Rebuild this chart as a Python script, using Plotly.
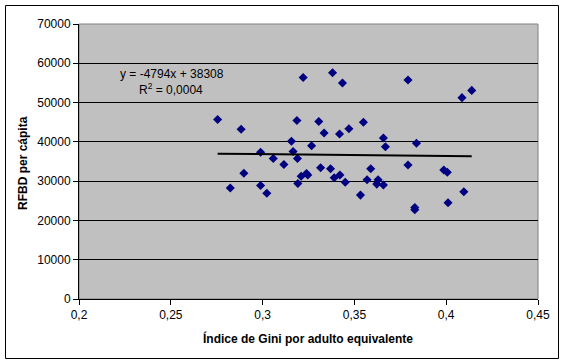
import plotly.graph_objects as go

gini = [0.2755, 0.2883, 0.2824, 0.2898, 0.2989, 0.2989, 0.3023, 0.3058, 0.3116, 0.3157,
        0.3166, 0.3190, 0.3187, 0.3192, 0.3210, 0.3221, 0.3239, 0.3246, 0.3267, 0.3306,
        0.3316, 0.3335, 0.3370, 0.3381, 0.3390, 0.3419, 0.3421, 0.3435, 0.3450, 0.3470,
        0.3533, 0.3549, 0.3569, 0.3589, 0.3622, 0.3629, 0.3658, 0.3658, 0.3669, 0.3792,
        0.3792, 0.3829, 0.3829, 0.3838, 0.3987, 0.4006, 0.4010, 0.4086, 0.4096, 0.4139]
rfbd = [45700, 43200, 28250, 32000, 37360, 28900, 26900, 35750, 34250, 40150,
        37550, 35750, 45450, 29400, 31250, 56400, 31950, 31550, 39000, 45200,
        33400, 42250, 33150, 57600, 30850, 42000, 31550, 55000, 29700, 43350,
        26450, 45000, 30350, 33150, 29250, 30350, 29000, 41000, 38750, 55750,
        34100, 23300, 22700, 39650, 32850, 32250, 24500, 51250, 27300, 53100]

trend_slope = -4794
trend_intercept = 38308
equation_text = "y = -4794x + 38308"
r2_text = "R<sup>2</sup> = 0,0004"

x_tickvals = [0.2, 0.25, 0.3, 0.35, 0.4, 0.45]
x_ticktext = ["0,2", "0,25", "0,3", "0,35", "0,4", "0,45"]
y_tickvals = [0, 10000, 20000, 30000, 40000, 50000, 60000, 70000]
y_ticktext = ["0", "10000", "20000", "30000", "40000", "50000", "60000", "70000"]

x_title = "Índice de Gini por adulto equivalente"
y_title = "RFBD per cápita"

FONT = "Liberation Sans, Arial, sans-serif"

tx = [min(gini), max(gini)]
ty = [trend_slope * v + trend_intercept for v in tx]

fig = go.Figure()
fig.add_trace(go.Scatter(
    x=gini, y=rfbd, mode="markers",
    marker=dict(symbol="diamond", size=7, color="#000080", line=dict(width=0)),
    showlegend=False, hoverinfo="x+y"))
fig.add_trace(go.Scatter(
    x=tx, y=ty, mode="lines", line=dict(color="black", width=2),
    showlegend=False, hoverinfo="skip"))

W, H = 566, 364
L, R, T, B = 79, 28, 24, 65
pw, ph = W - L - R, H - T - B

def px2paper_x(px):
    return (px - L) / pw

def px2paper_y(py):
    return (H - B - py) / ph

fig.update_layout(
    width=W, height=H,
    margin=dict(l=L, r=R, t=T, b=B, pad=0, autoexpand=False),
    paper_bgcolor="white",
    plot_bgcolor="#C0C0C0",
    font=dict(family=FONT, size=12, color="black"),
    xaxis=dict(range=[0.2, 0.45], tickvals=x_tickvals, ticktext=x_ticktext,
               showgrid=False, zeroline=False, showline=True, linecolor="black",
               linewidth=1, ticks="outside", ticklen=5, tickcolor="black",
               tickfont=dict(size=12), automargin=False),
    yaxis=dict(range=[0, 70000], tickvals=y_tickvals, ticktext=y_ticktext,
               showgrid=True, gridcolor="black", gridwidth=1, zeroline=False,
               showline=True, linecolor="black", linewidth=1,
               ticks="outside", ticklen=5, tickcolor="black",
               tickfont=dict(size=12), automargin=False),
    shapes=[
        dict(type="rect", xref="paper", yref="paper", x0=0, x1=1, y0=0, y1=1,
             line=dict(color="#808080", width=1), layer="below"),
        dict(type="rect", xref="paper", yref="paper",
             x0=px2paper_x(5.5), x1=px2paper_x(558.5),
             y0=px2paper_y(358.5), y1=px2paper_y(5.5),
             line=dict(color="black", width=1)),
    ],
    annotations=[
        dict(xref="paper", yref="paper", x=px2paper_x(117.5), y=px2paper_y(74),
             xanchor="left", yanchor="middle", text=equation_text, showarrow=False,
             font=dict(size=12, color="black")),
        dict(xref="paper", yref="paper", x=px2paper_x(137), y=px2paper_y(89),
             xanchor="left", yanchor="middle", text=r2_text, showarrow=False,
             font=dict(size=12, color="black")),
        dict(xref="paper", yref="paper", x=px2paper_x(308), y=px2paper_y(338),
             xanchor="center", yanchor="middle", text="<b>" + x_title + "</b>",
             showarrow=False, font=dict(size=12, color="black")),
        dict(xref="paper", yref="paper", x=px2paper_x(23), y=px2paper_y(163),
             xanchor="center", yanchor="middle", text="<b>" + y_title + "</b>",
             textangle=-90, showarrow=False, font=dict(size=12, color="black")),
    ],
)

fig.write_html("out.html",
               config={"displayModeBar": False},
               post_script="document.body.style.margin='0';document.body.style.overflow='hidden';")
